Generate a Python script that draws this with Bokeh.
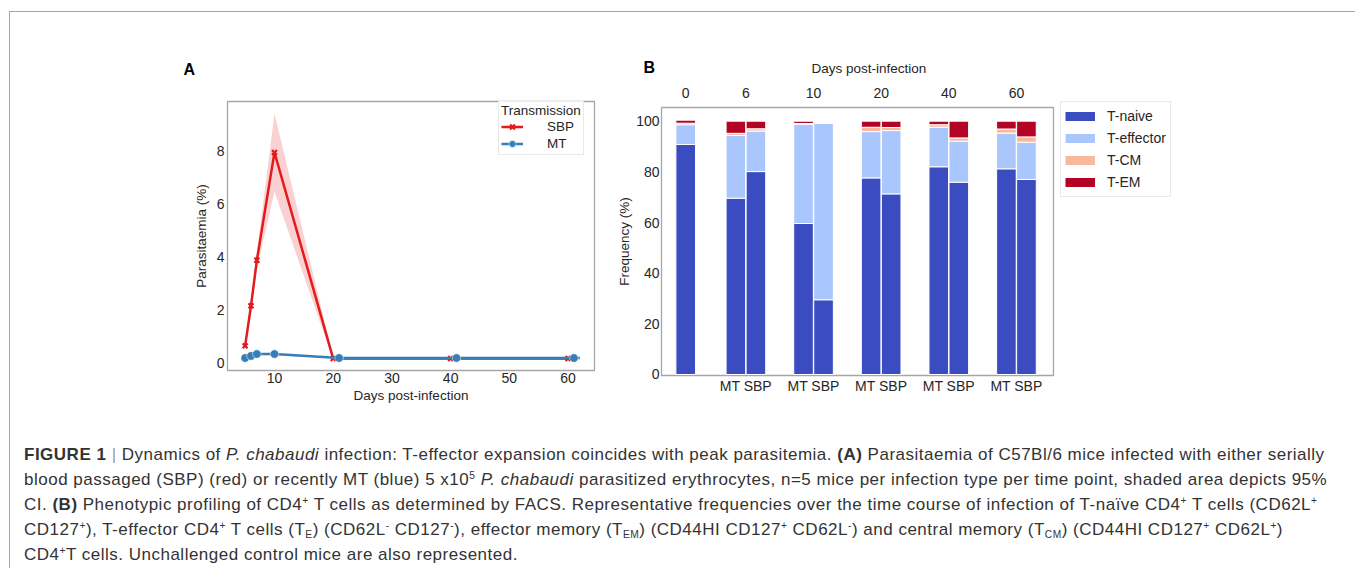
from bokeh.plotting import figure
from bokeh.models import (Range1d, FixedTicker, LinearAxis, Legend, LegendItem,
                          Title, Label, ColumnDataSource, Div, Spacer)
from bokeh.layouts import row, column
from bokeh.embed import file_html
from bokeh.resources import INLINE

# ---------------- Panel A data ----------------
sbp_days = [5, 6, 7, 10, 20, 40, 60]
sbp_para = [0.64, 2.15, 3.87, 7.94, 0.16, 0.16, 0.16]
sbp_lo = [0.55, 1.95, 3.55, 6.45, 0.11, 0.12, 0.12]
sbp_hi = [0.73, 2.35, 4.15, 9.40, 0.22, 0.20, 0.20]

mt_days = [5, 6, 7, 10, 21, 41, 61, 62]
mt_para = [0.18, 0.26, 0.33, 0.33, 0.18, 0.18, 0.18, 0.18]
mt_lo = [0.15, 0.22, 0.29, 0.29, 0.15, 0.15, 0.15, 0.15]
mt_hi = [0.21, 0.30, 0.37, 0.37, 0.21, 0.21, 0.21, 0.21]

# ---------------- Panel B data ----------------
day_labels = ["0", "6", "10", "20", "40", "60"]
cohorts = ["MT", "SBP"]
subsets = ["T-naive", "T-effector", "T-CM", "T-EM"]
control_vals = [90.8, 7.8, 0.6, 1.2]          # naive, effector, CM, EM (day 0)
naive_mt = [69.6, 59.6, 77.6, 82.0, 81.2]
naive_sbp = [80.1, 29.5, 71.3, 75.9, 77.0]
effector_mt = [24.8, 39.1, 18.3, 15.6, 14.1]
effector_sbp = [16.0, 69.7, 25.0, 16.2, 14.7]
tcm_mt = [0.8, 0.4, 1.7, 1.0, 1.6]
tcm_sbp = [0.9, 0.1, 1.2, 1.3, 2.1]
tem_mt = [4.8, 0.9, 2.4, 1.4, 3.1]
tem_sbp = [3.0, 0.1, 2.5, 6.6, 6.2]

RED = "#e41a1c"
BLUE = "#377eb8"
SUB_COLORS = ["#3b4cc0", "#aac7fd", "#f7b89c", "#b40426"]
TXT = "#262626"
FRAME = "#a6a6a6"
FONT = "Liberation Sans"
NAN = float("nan")


def style_axes(p):
    p.xgrid.visible = False
    p.ygrid.visible = False
    p.outline_line_color = FRAME
    p.outline_line_width = 1.3
    p.background_fill_color = "white"
    p.border_fill_color = "white"
    try:
        p.frame_align = False
    except Exception:
        pass
    for ax in p.axis:
        ax.axis_line_color = None
        ax.major_tick_line_color = None
        ax.minor_tick_line_color = None
        ax.major_tick_out = 0
        ax.major_tick_in = 0
        ax.minor_tick_out = 0
        ax.minor_tick_in = 0
        ax.major_label_text_font = FONT
        ax.major_label_text_font_size = "14px"
        ax.major_label_text_color = TXT
        ax.axis_label_text_font = FONT
        ax.axis_label_text_font_size = "13.5px"
        ax.axis_label_text_font_style = "normal"
        ax.axis_label_text_color = TXT


def style_title(t, size="16px", bold=True, color="black"):
    t.text_font = FONT
    t.text_font_size = size
    t.text_font_style = "bold" if bold else "normal"
    t.text_color = color


# ================= Panel A =================
pA = figure(frame_width=367, frame_height=269, min_border_left=57, min_border_right=8,
            min_border_top=89, min_border_bottom=41,
            x_range=Range1d(2.0, 64.5), y_range=Range1d(-0.29, 9.86),
            output_backend="svg", toolbar_location=None)
style_axes(pA)
pA.xaxis.ticker = FixedTicker(ticks=[10, 20, 30, 40, 50, 60])
pA.yaxis.ticker = FixedTicker(ticks=[0, 2, 4, 6, 8])
pA.xaxis.major_label_standoff = 2
pA.yaxis.major_label_standoff = 3
pA.xaxis.axis_label = "Days post-infection"
pA.xaxis.axis_label_standoff = 2
pA.yaxis.axis_label = "Parasitaemia (%)"
pA.yaxis.axis_label_standoff = 5

pA.title.text = "A"
pA.title.align = "left"
pA.title.offset = -44
pA.title.standoff = 48
style_title(pA.title)

pA.varea(x=sbp_days, y1=sbp_lo, y2=sbp_hi, fill_color=RED, fill_alpha=0.2)
r_sl = pA.line(sbp_days, sbp_para, line_color=RED, line_width=2.5)
r_sp = pA.scatter(sbp_days, sbp_para, marker="x", size=7, line_color=RED, line_width=2.2)
pA.varea(x=mt_days, y1=mt_lo, y2=mt_hi, fill_color=BLUE, fill_alpha=0.2)
r_ml = pA.line(mt_days, mt_para, line_color=BLUE, line_width=2.5)
r_mp = pA.scatter(mt_days[:-1], mt_para[:-1], marker="circle", size=8.5,
                  fill_color=BLUE, line_color="white", line_width=0.5)

legA = Legend(items=[LegendItem(label="SBP", renderers=[r_sl, r_sp]),
                     LegendItem(label="MT", renderers=[r_ml, r_mp])],
              title="Transmission", location=(271, 215))
legA.title_text_font = FONT
legA.title_text_font_size = "13.5px"
legA.title_text_font_style = "normal"
legA.title_text_color = TXT
legA.title_standoff = 0
legA.label_text_font = FONT
legA.label_text_font_size = "13.5px"
legA.label_text_color = TXT
legA.padding = 2
legA.margin = 0
legA.spacing = 0
legA.glyph_height = 17
legA.label_height = 17
legA.glyph_width = 22
legA.label_standoff = 24
legA.border_line_color = "#d4d4d4"
legA.background_fill_alpha = 0.85
pA.add_layout(legA)

# ================= Panel B =================
ctrl_x = 0.11
off = 0.148
xs = [ctrl_x]
cols = {s: [control_vals[i]] for i, s in enumerate(subsets)}
series_mt = [naive_mt, effector_mt, tcm_mt, tem_mt]
series_sbp = [naive_sbp, effector_sbp, tcm_sbp, tem_sbp]
for k in range(len(naive_mt)):
    xs += [k + 1 - off, k + 1 + off]
    for i, s in enumerate(subsets):
        cols[s] += [series_mt[i][k], series_sbp[i][k]]
srcB = ColumnDataSource(dict(x=xs, **cols))

pB = figure(frame_width=392, frame_height=268, min_border_left=45, min_border_right=140,
            min_border_top=95, min_border_bottom=36,
            x_range=Range1d(-0.248, 5.548), y_range=Range1d(-0.4, 105.4),
            output_backend="svg", toolbar_location=None)
top_axis = LinearAxis()
pB.add_layout(top_axis, "above")
dpi_title = Title(text="Days post-infection", align="left", offset=150, standoff=17)
style_title(dpi_title, size="13.5px", bold=False, color=TXT)
pB.add_layout(dpi_title, "above")
style_axes(pB)

pB.yaxis.ticker = FixedTicker(ticks=[0, 20, 40, 60, 80, 100])
pB.yaxis.major_label_standoff = 2
pB.yaxis.axis_label = "Frequency (%)"
pB.yaxis.axis_label_standoff = 1

group_ticks = [k + 1 for k in range(len(naive_mt))]
bottom_axis = pB.below[0]
bottom_axis.ticker = FixedTicker(ticks=group_ticks)
bottom_axis.major_label_overrides = {t: " ".join(cohorts) for t in group_ticks}
bottom_axis.major_label_standoff = 2
top_ticks = [ctrl_x] + group_ticks
top_axis.ticker = FixedTicker(ticks=top_ticks)
top_axis.major_label_overrides = {t: lab for t, lab in zip(top_ticks, day_labels)}
top_axis.major_label_standoff = 10

# panel letter placed in the left side panel (outside the clipped frame)
labB = Label(x=41, y=308.5, x_units="screen", y_units="screen", text="B",
             text_font=FONT, text_font_size="16px", text_font_style="bold",
             text_color="black", text_align="left", text_baseline="alphabetic")
pB.add_layout(labB, "left")

pB.vbar_stack(subsets, x="x", width=0.29, fill_color=SUB_COLORS, line_color="white",
              line_width=1, source=srcB)

# legend swatches (no data drawn; only their legend glyphs show)
proxies = [pB.line(x=[NAN, NAN], y=[NAN, NAN], line_color=c, line_width=9)
           for c in SUB_COLORS]
legB = Legend(items=[LegendItem(label=s, renderers=[r]) for s, r in zip(subsets, proxies)],
              location=(7, 178))
legB.label_text_font = FONT
legB.label_text_font_size = "14px"
legB.label_text_color = TXT
legB.padding = 4
legB.margin = 0
legB.spacing = 2
legB.glyph_height = 20
legB.label_height = 20
legB.glyph_width = 30
legB.label_standoff = 12
legB.border_line_color = "#d4d4d4"
pB.add_layout(legB, "right")

# ================= Caption =================
def sup(t):
    return f"<sup style='font-size:60%;line-height:0;vertical-align:0.6em'>{t}</sup>"


def sub(t):
    return f"<sub style='font-size:60%;line-height:0;vertical-align:-0.25em'>{t}</sub>"


caption_lines = [
    "<b>FIGURE 1</b> <span style='color:#999'>|</span> Dynamics of <i>P. chabaudi</i> infection: "
    "T-effector expansion coincides with peak parasitemia. <b>(A)</b> Parasitaemia of C57Bl/6 "
    "mice infected with either serially",
    "blood passaged (SBP) (red) or recently MT (blue) 5 x10" + sup("5") + " <i>P. chabaudi</i> "
    "parasitized erythrocytes, n=5 mice per infection type per time point, shaded area depicts 95%",
    "CI. <b>(B)</b> Phenotypic profiling of CD4" + sup("+") + " T cells as determined by FACS. "
    "Representative frequencies over the time course of infection of T-naïve CD4" + sup("+")
    + " T cells (CD62L" + sup("+"),
    "CD127" + sup("+") + "), T-effector CD4" + sup("+") + " T cells (T" + sub("E") + ") (CD62L"
    + sup("-") + " CD127" + sup("-") + "), effector memory (T" + sub("EM") + ") (CD44HI CD127"
    + sup("+") + " CD62L" + sup("-") + ") and central memory (T" + sub("CM") + ") (CD44HI CD127"
    + sup("+") + " CD62L" + sup("+") + ")",
    "CD4" + sup("+") + "T cells. Unchallenged control mice are also represented.",
]
html = ("<div style=\"font-family:'Liberation Sans',Arial,sans-serif;font-size:17px;"
        "letter-spacing:0.5px;color:#333333;line-height:25px;white-space:nowrap;"
        "padding:31px 0 0 14px;\">" + "<br>".join(caption_lines) + "</div>")
caption = Div(text=html, width=1343, height=157, margin=0)

top = row(Spacer(width=160, height=399), pA, pB)
outer = column(top, caption, margin=(11, 0, 0, 9),
               styles={"border-top": f"1px solid {FRAME}",
                       "border-left": f"1px solid {FRAME}",
                       "border-right": f"1px solid {FRAME}"})

open("out.html", "w").write(file_html(outer, INLINE))
